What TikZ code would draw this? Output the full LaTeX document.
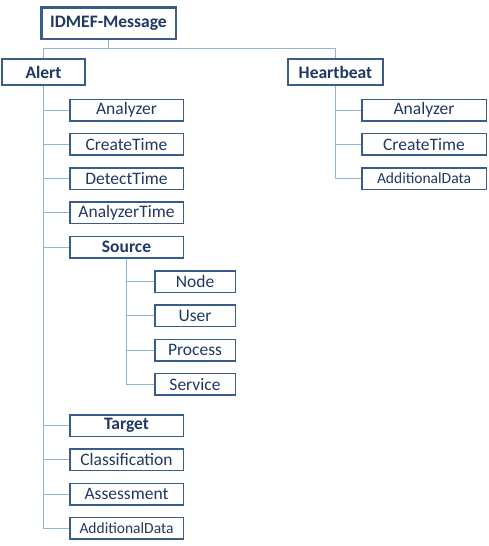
\documentclass[tikz,border=0pt]{standalone}
\usepackage{fontspec}
\setmainfont{Carlito}
\usepackage{tikz}
\usetikzlibrary{positioning}

\definecolor{boxline}{HTML}{385D8A}
\definecolor{boxtext}{HTML}{1F3864}
\definecolor{linkline}{HTML}{95B3D7}

\begin{document}
\begin{tikzpicture}[x=1pt,y=1pt,node distance=34.3pt,on grid,
        leaf/.style={draw=boxline, line width=1.5pt, fill=white, text=boxtext, inner sep=0pt,
            minimum width=113.5pt, minimum height=21.5pt, font=\fontsize{17.5}{20}\selectfont},
        smallleaf/.style={leaf, font=\fontsize{15.5}{18}\selectfont},
        branch/.style={leaf, font=\fontsize{17.5}{20}\selectfont\bfseries},
        head/.style={branch, line width=2pt, minimum height=26pt},
        root/.style={branch, line width=2.5pt, minimum width=134.5pt, minimum height=31.5pt},
        link/.style={draw=linkline, line width=1pt}]
        \useasboundingbox (0,0) rectangle (489,-546);

        \node[root]                     (msg)       at (108.5,-23)          {IDMEF-Message};
        \node[head, minimum width=83pt] (alert)     at (43.5,-72)           {Alert};
        \node[head, minimum width=95pt] (heart)     at (335.5,-72)          {Heartbeat};
        \coordinate                     (split)     at (108.5,-48);

        % Alert
        \node[leaf]         (a_ana)     at (126.5,-110)         {Analyzer};
        \node[leaf]         (a_ctime)   [below of=a_ana]        {CreateTime};
        \node[leaf]         (a_dtime)   [below of=a_ctime]      {DetectTime};
        \node[leaf]         (a_atime)   [below of=a_dtime]      {AnalyzerTime};
        \node[branch]       (a_src)     [below of=a_atime]      {Source};

        \node[leaf, minimum width=80.5pt]   (s_node)    at (195,-281.5)         {Node};
        \node[leaf, minimum width=80.5pt]   (s_user)    [below of=s_node]       {User};
        \node[leaf, minimum width=80.5pt]   (s_proc)    [below of=s_user]       {Process};
        \node[leaf, minimum width=80.5pt]   (s_serv)    [below of=s_proc]       {Service};

        \node[branch]       (a_tgt)     at (126.5,-425.5)       {Target};
        \node[leaf]         (a_class)   [below of=a_tgt]        {Classification};
        \node[leaf]         (a_assess)  [below of=a_class]      {Assessment};
        \node[smallleaf]    (a_add)     [below of=a_assess]     {AdditionalData};

        % Heartbeat
        \node[leaf, minimum width=124.5pt]      (h_ana)     at (424,-110)       {Analyzer};
        \node[leaf, minimum width=124.5pt]      (h_ctime)   [below of=h_ana]    {CreateTime};
        \node[smallleaf, minimum width=124.5pt] (h_add)     [below of=h_ctime]  {AdditionalData};

        \path[link] (msg.south) -- (split) -| (alert.north)
        (split) -| (heart.north);
        \foreach \n in {a_ana,a_ctime,a_dtime,a_atime,a_src,a_tgt,a_class,a_assess,a_add}
            \path[link] (alert.south) |- (\n.west);
        \foreach \n in {s_node,s_user,s_proc,s_serv}
            \path[link] (a_src.south) |- (\n.west);
        \foreach \n in {h_ana,h_ctime,h_add}
            \path[link] (heart.south) |- (\n.west);
    \end{tikzpicture}
\end{document}
